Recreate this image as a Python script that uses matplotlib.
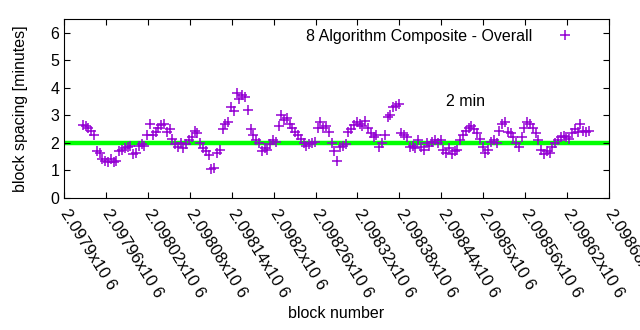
"""
Block spacing (minutes) against block number for the
8 algorithm composite, with the 2 minute target line.
"""

import numpy as np
import matplotlib.pyplot as plt

plt.rcParams['font.family'] = ['Liberation Sans', 'DejaVu Sans']

# ---- Data
# block numbers: every 4th block from the first plotted block
first_block = 2097927
block_step = 4
spacing = [
    2.65, 2.6, 2.55, 2.45, 2.3, 1.7, 1.65, 1.4, 1.35, 1.3,
    1.4, 1.3, 1.35, 1.7, 1.75, 1.8, 1.85, 1.9, 1.6, 1.65,
    1.9, 1.95, 1.9, 2.3, 2.7, 2.3, 2.4, 2.55, 2.65, 2.7,
    2.4, 2.5, 2.15, 1.95, 1.85, 2.0, 1.8, 1.95, 2.1, 2.2,
    2.45, 2.35, 2.0, 1.8, 1.7, 1.55, 1.05, 1.1, 1.65, 1.75,
    2.5, 2.7, 2.75, 3.3, 3.15, 3.8, 3.6, 3.75, 3.65, 3.2,
    2.5, 2.3, 2.1, 2.0, 1.7, 1.8, 1.75, 1.95, 2.1, 2.05,
    2.6, 3.0, 2.85, 2.9, 2.7, 2.55, 2.4, 2.3, 2.15, 2.0,
    1.9, 1.95, 2.0, 2.05, 2.55, 2.75, 2.55, 2.6, 2.4, 2.0,
    1.7, 1.35, 1.85, 1.9, 1.95, 2.4, 2.5, 2.65, 2.75, 2.7,
    2.6, 2.8, 2.55, 2.35, 2.2, 2.3, 1.85, 2.0, 2.3, 2.95,
    3.0, 3.3, 3.35, 3.4, 2.35, 2.3, 2.2, 1.85, 1.9, 1.8,
    2.1, 1.85, 1.75, 2.0, 1.9, 2.05, 2.1, 2.0, 2.1, 1.75,
    1.65, 1.8, 1.6, 1.7, 1.75, 2.1, 2.3, 2.45, 2.55, 2.6,
    2.5, 2.35, 2.15, 1.85, 1.65, 1.75, 2.05, 2.1, 2.0, 2.45,
    2.7, 2.75, 2.4, 2.35, 2.2, 2.0, 1.85, 2.2, 2.55, 2.75,
    2.7, 2.55, 2.35, 2.1, 1.75, 1.6, 1.7, 1.65, 1.85, 2.0,
    2.1, 2.2, 2.25, 2.2, 2.15, 2.35, 2.5, 2.4, 2.7, 2.45,
    2.4, 2.45,
]
blocks = first_block + block_step * np.arange(len(spacing))

target = 2.0
xtick_values = [2097900 + 60 * i for i in range(14)]
xtick_labels = ['2.0979x10 6', '2.09796x10 6', '2.09802x10 6',
                '2.09808x10 6', '2.09814x10 6', '2.0982x10 6',
                '2.09826x10 6', '2.09832x10 6', '2.09838x10 6',
                '2.09844x10 6', '2.0985x10 6', '2.09856x10 6',
                '2.09862x10 6', '2.09868x10 6']

fs = 11.5

# ---- Plot
fig = plt.figure(figsize=(6.4, 3.3), dpi=100)
ax = fig.add_axes([0.1, 0.4, 0.8516, 0.5424])

ax.axhline(target, color='#00ff00', lw=3.2, zorder=1)
ax.plot(blocks, spacing, '+', color='#9400d3', ms=7, mew=1.1,
        label='8 Algorithm Composite - Overall', zorder=2)

ax.set_xlim(2097900, 2098680)
ax.set_ylim(0, 6.5)
ax.set_yticks(range(7))
ax.set_xticks(xtick_values)
ax.set_xticklabels(xtick_labels, rotation=-58, ha='left', va='center',
                   rotation_mode='anchor', fontsize=12)
ax.tick_params(direction='in', top=True, right=True, length=4,
               labelsize=fs, colors='black')
ax.tick_params(axis='x', pad=9, labelsize=12)

ax.text(2098447, 3.5, '2 min', fontsize=fs, va='center', ha='left')

ax.set_ylabel('block spacing [minutes]', fontsize=fs, labelpad=16)
ax.set_xlabel('block number', fontsize=fs, labelpad=4)

ax.legend(loc='upper right', markerfirst=False, frameon=False,
          fontsize=fs, handlelength=2.0, handletextpad=1.1,
          borderaxespad=0.2, bbox_to_anchor=(0.967, 1.0))

fig.savefig('out.png', dpi=100)
